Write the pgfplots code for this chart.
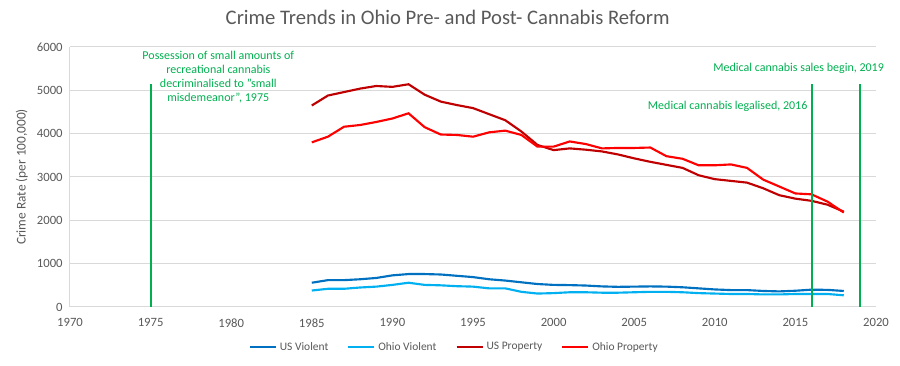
\documentclass[border=0pt]{standalone}
\usepackage{pgfplots}
\pgfplotsset{compat=1.18}
\usepackage{fontspec}
\setmainfont{Carlito}
\definecolor{txtgray}{RGB}{89,89,89}
\definecolor{gridgray}{RGB}{217,217,217}
\definecolor{usviol}{RGB}{0,112,192}
\definecolor{ohviol}{RGB}{0,176,240}
\definecolor{usprop}{RGB}{192,0,0}
\definecolor{ohprop}{RGB}{255,0,0}
\definecolor{annot}{RGB}{0,176,80}
\begin{document}
\begin{tikzpicture}[x=0.75pt,y=0.75pt]
\begin{axis}[name=ax,
  scale only axis, width=604.5pt, height=195pt,
  xmin=1970, xmax=2020, ymin=0, ymax=6000,
  xtick={1970,1975,...,2020}, ytick={0,1000,...,6000},
  /pgf/number format/assume math mode=true,
  xticklabel style={/pgf/number format/1000 sep={}, font=\fontsize{9.5}{10}\selectfont, text=txtgray, yshift=-5pt},
  yticklabel style={/pgf/number format/1000 sep={}, font=\fontsize{9.5}{10}\selectfont, text=txtgray, xshift=-2pt},
  major tick length=0pt,
  axis x line*=bottom, axis y line*=left,
  axis line style={gridgray, line width=0.75pt},
  ymajorgrids, grid style={gridgray, line width=0.75pt},
  ylabel={Crime Rate (per 100,000)},
  ylabel style={font=\fontsize{10}{11}\selectfont, text=txtgray},
  legend style={at={(0.477,-0.154)}, anchor=center, draw=none, legend columns=4,
    font=\fontsize{8.6}{10}\selectfont, text=txtgray,
    /tikz/every even column/.append style={column sep=12pt},
    /tikz/every odd column/.append style={column sep=0pt}},
  legend cell align=left,
  legend image code/.code={\draw[#1, line width=2pt] (0pt,0pt) -- (19.5pt,0pt);},
  title={Crime Trends in Ohio Pre- and Post- Cannabis Reform},
  title style={font=\fontsize{15.5}{17}\selectfont, text=txtgray, yshift=7pt, xshift=-19pt},
  clip=false,
]
\addplot[usviol, line width=1.6pt] coordinates {
(1985,560)(1986,620)(1987,620)(1988,640)(1989,670)(1990,730)(1991,760)(1992,760)(1993,750)(1994,720)
(1995,690)(1996,640)(1997,610)(1998,570)(1999,530)(2000,510)(2001,505)(2002,495)(2003,475)(2004,465)
(2005,470)(2006,475)(2007,470)(2008,455)(2009,430)(2010,405)(2011,390)(2012,390)(2013,370)(2014,360)
(2015,375)(2016,400)(2017,395)(2018,370)};
\addlegendentry{US Violent}
\addplot[ohviol, line width=1.6pt] coordinates {
(1985,380)(1986,420)(1987,420)(1988,450)(1989,470)(1990,510)(1991,560)(1992,510)(1993,500)(1994,480)
(1995,470)(1996,430)(1997,430)(1998,350)(1999,310)(2000,320)(2001,340)(2002,340)(2003,330)(2004,330)
(2005,340)(2006,350)(2007,350)(2008,340)(2009,320)(2010,310)(2011,300)(2012,300)(2013,290)(2014,290)
(2015,300)(2016,300)(2017,300)(2018,270)};
\addlegendentry{Ohio Violent}
\addplot[usprop, line width=1.6pt] coordinates {
(1985,4650)(1986,4880)(1987,4960)(1988,5040)(1989,5100)(1990,5080)(1991,5140)(1992,4900)(1993,4740)(1994,4660)
(1995,4590)(1996,4450)(1997,4310)(1998,4050)(1999,3740)(2000,3620)(2001,3660)(2002,3630)(2003,3590)(2004,3520)
(2005,3430)(2006,3350)(2007,3280)(2008,3210)(2009,3040)(2010,2950)(2011,2910)(2012,2870)(2013,2740)(2014,2580)
(2015,2500)(2016,2450)(2017,2360)(2018,2200)};
\addlegendentry{US Property}
\addplot[ohprop, line width=1.6pt] coordinates {
(1985,3800)(1986,3930)(1987,4160)(1988,4200)(1989,4270)(1990,4350)(1991,4470)(1992,4150)(1993,3980)(1994,3970)
(1995,3930)(1996,4030)(1997,4070)(1998,3970)(1999,3700)(2000,3700)(2001,3820)(2002,3760)(2003,3660)(2004,3670)
(2005,3670)(2006,3680)(2007,3480)(2008,3420)(2009,3270)(2010,3270)(2011,3290)(2012,3210)(2013,2940)(2014,2780)
(2015,2620)(2016,2600)(2017,2430)(2018,2180)};
\addlegendentry{Ohio Property}
\addplot[annot, line width=1.5pt, forget plot] coordinates {(1975,0)(1975,5150)};
\addplot[annot, line width=1.5pt, forget plot] coordinates {(2016,0)(2016,5150)};
\addplot[annot, line width=1.5pt, forget plot] coordinates {(2019,0)(2019,5150)};
\node[text=annot, font=\fontsize{9}{10.5}\selectfont, align=center, anchor=north] at (axis cs:1979.2,6010)
  {Possession of small amounts of\\recreational cannabis\\decriminalised to "small\\misdemeanor", 1975};
\node[text=annot, font=\fontsize{9}{10}\selectfont, anchor=center] at (axis cs:2015.2,5515) {Medical cannabis sales begin, 2019};
\node[text=annot, font=\fontsize{9}{10}\selectfont, anchor=center] at (axis cs:2010.8,4639) {Medical cannabis legalised, 2016};
\end{axis}
\path ([xshift=-70pt*0.75, yshift=-59pt*0.75]ax.south west) rectangle ([xshift=24pt*0.75, yshift=47pt*0.75]ax.north east);
\end{tikzpicture}
\end{document}
